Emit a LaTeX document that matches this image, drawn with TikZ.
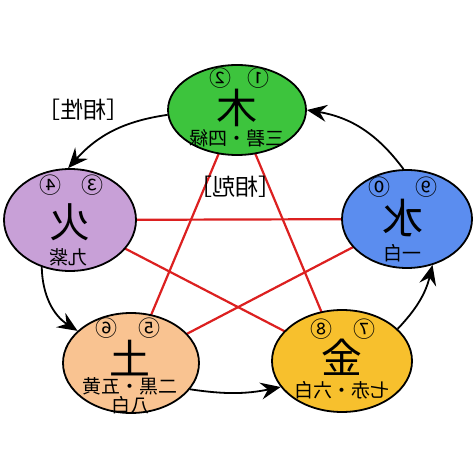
\documentclass[tikz,border=0pt]{standalone}
\usepackage{fontspec}
\newfontfamily\cjk{Noto Sans CJK JP}
\usetikzlibrary{arrows.meta,shapes.geometric,backgrounds}
\definecolor{woodgreen}{HTML}{3DC43D}
\definecolor{firepurple}{HTML}{C8A0D7}
\definecolor{waterblue}{HTML}{5B8DEF}
\definecolor{earthpeach}{HTML}{F9C391}
\definecolor{metalgold}{HTML}{F7C02D}
\definecolor{starred}{HTML}{DC2020}
\tikzset{
  phase/.style={ellipse,draw=black,line width=1.8pt,inner sep=0pt},
  bigchar/.style={font=\cjk\fontsize{41}{41}\selectfont},
  numtxt/.style={font=\cjk\fontsize{22}{22}\selectfont},
  subtxt/.style={font=\cjk\fontsize{19}{15}\selectfont,align=center},
  labeltxt/.style={font=\cjk\fontsize{23}{23}\selectfont},
  flow/.style={-{Stealth[length=20pt,width=17pt,inset=7pt]},line width=1.8pt},
  starline/.style={starred,line width=2.2pt}
}

\begin{document}
\begin{tikzpicture}[x=1pt,y=1pt]
  \useasboundingbox (0,0) rectangle (474,474);
  % five phases
  \node[phase,fill=woodgreen,minimum width=138,minimum height=90] (wood) at (237,364) {};
  \node[phase,fill=firepurple,minimum width=132,minimum height=102] (fire) at (70,254) {};
  \node[phase,fill=waterblue,minimum width=130,minimum height=98] (water) at (407,255) {};
  \node[phase,fill=earthpeach,minimum width=136,minimum height=100] (earth) at (131,111) {};
  \node[phase,fill=metalgold,minimum width=140,minimum height=102] (metal) at (342,113) {};
  % star (mutual control)
  \begin{scope}[on background layer]
    \draw[starline] (wood.center) -- (earth.center);
    \draw[starline] (wood.center) -- (metal.center);
    \draw[starline] (fire.center) -- (water.center);
    \draw[starline] (fire.center) -- (metal.center);
    \draw[starline] (water.center) -- (earth.center);
  \end{scope}
  % texts inside
  \node[numtxt] (wood-num) at (239,396) {\reflectbox{①\hspace{16pt}②}};
  \node[bigchar] (wood-char) at (237,366) {\reflectbox{木}};
  \node[subtxt] (wood-sub) at (237,336) {\reflectbox{三碧・四緑}};
  \node[numtxt] (fire-num) at (71,289) {\reflectbox{③\hspace{20pt}④}};
  \node[bigchar] (fire-char) at (70,252) {\reflectbox{火}};
  \node[subtxt] (fire-sub) at (68,217) {\reflectbox{九紫}};
  \node[numtxt] (water-num) at (403,287) {\reflectbox{⑨\hspace{25pt}⓪}};
  \node[bigchar] (water-char) at (403,256) {\reflectbox{水}};
  \node[subtxt] (water-sub) at (402,221) {\reflectbox{一白}};
  \node[numtxt] (earth-num) at (128,146) {\reflectbox{⑤\hspace{21pt}⑥}};
  \node[bigchar] (earth-char) at (130,116) {\reflectbox{土}};
  \node[subtxt] (earth-sub) at (130,78) {\reflectbox{二黒・五黄}\\\reflectbox{八白}};
  \node[numtxt] (metal-num) at (343,145) {\reflectbox{⑦\hspace{21pt}⑧}};
  \node[bigchar] (metal-char) at (342,117) {\reflectbox{金}};
  \node[subtxt] (metal-sub) at (342,84) {\reflectbox{七赤・六白}};
  % labels
  \node[labeltxt] (gen-label) at (83,364) {\reflectbox{［相性］}};
  \node[labeltxt] (ctl-label) at (235,287) {\reflectbox{［相剋］}};
  % generating cycle
  \draw[flow] (wood.184) to[bend right=20] (fire.92);
  \draw[flow] (fire.239) to[bend right=28] (earth.149);
  \draw[flow] (earth.336) to[bend right=10] (metal.203);
  \draw[flow] (metal.30) to[bend right=15] (water.299);
  \draw[flow] (water.94) to[bend right=22] (wood.0);
\end{tikzpicture}
\end{document}
